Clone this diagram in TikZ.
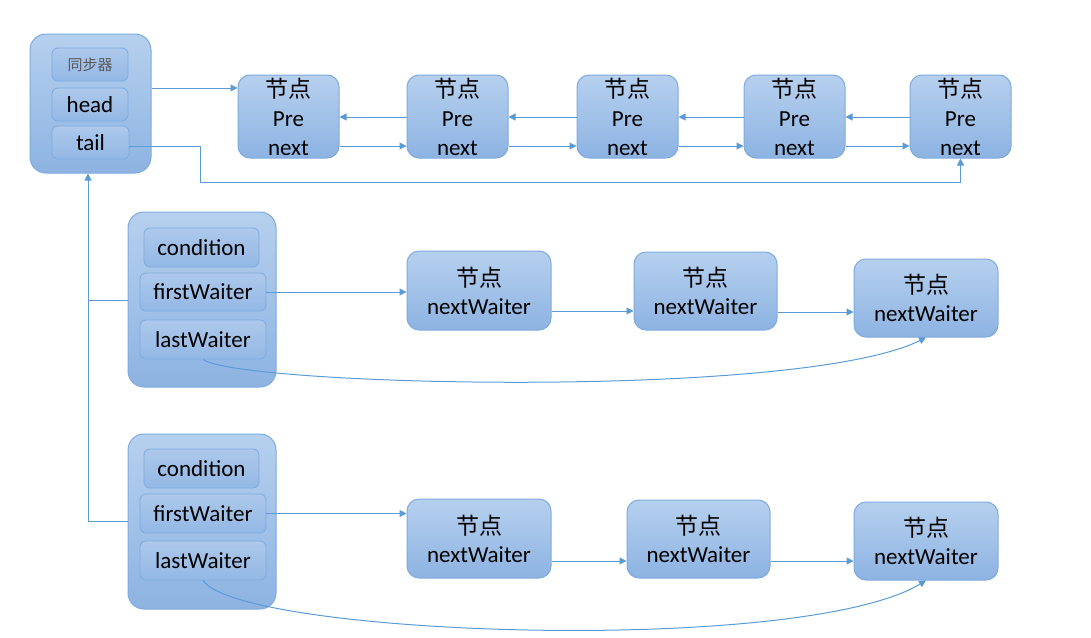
\documentclass[tikz,border=0pt]{standalone}
\usepackage{fontspec}
\setmainfont{Carlito}
\newfontfamily\cjk{Noto Sans CJK SC}
\usetikzlibrary{arrows.meta,calc}
\definecolor{lineblue}{HTML}{5B9BD5}
\definecolor{bord}{HTML}{7EAADF}
\definecolor{outtop}{HTML}{B6D0EE}
\definecolor{outbot}{HTML}{8DB3E2}
\definecolor{intop}{HTML}{ADC8EB}
\definecolor{inbot}{HTML}{93B8E5}
\definecolor{graytxt}{HTML}{595959}
\begin{document}
\begin{tikzpicture}[x=1pt,y=-1pt,
  outer/.style={draw=bord, line width=1pt, rounded corners=16pt, top color=outtop, bottom color=outbot, inner sep=0pt},
  inner/.style={draw=bord, line width=0.8pt, rounded corners=6pt, top color=intop, bottom color=inbot, inner sep=0pt, font=\fontsize{23}{26}\selectfont},
  listnode/.style={draw=bord, line width=1pt, rounded corners=12pt, top color=outtop, bottom color=outbot, inner sep=0pt, align=center, minimum width=101pt, minimum height=83pt, font=\fontsize{23}{29}\selectfont},
  waitnode/.style={draw=bord, line width=1pt, rounded corners=12pt, top color=outtop, bottom color=outbot, inner sep=0pt, align=center, minimum width=144pt, minimum height=79pt, font=\fontsize{23}{28}\selectfont},
  arr/.style={draw=lineblue, line width=1pt, -{Triangle[length=7pt,width=7pt]}},
  ln/.style={draw=lineblue, line width=1pt}
]
\useasboundingbox (0,0) rectangle (1091,637);

% synchronizer
\node[outer, minimum width=121pt, minimum height=139pt] (sync) at (90.5,103.5) {};
\node[inner, minimum width=76pt, minimum height=33pt, text=graytxt, font=\cjk\fontsize{15}{18}\selectfont] (sname) at (90,64.5) {同步器};
\node[inner, minimum width=76pt, minimum height=33pt] (head) at (90,104.5) {head};
\node[inner, minimum width=77pt, minimum height=33pt] (tail) at (90.5,142.5) {tail};

% top list
\node[listnode] (n1) at (288.5,116.5) {{\cjk 节点}\\Pre\\next};
\node[listnode] (n2) at (457.5,116.5) {{\cjk 节点}\\Pre\\next};
\node[listnode] (n3) at (627.5,116.5) {{\cjk 节点}\\Pre\\next};
\node[listnode] (n4) at (794.5,116.5) {{\cjk 节点}\\Pre\\next};
\node[listnode] (n5) at (960.5,116.5) {{\cjk 节点}\\Pre\\next};

\draw[arr] (sync.east |- 0,88) -- (n1.west |- 0,88);
\draw[arr] (n2.west |- 0,117) -- (n1.east |- 0,117);
\draw[arr] (n3.west |- 0,117) -- (n2.east |- 0,117);
\draw[arr] (n4.west |- 0,117) -- (n3.east |- 0,117);
\draw[arr] (n5.west |- 0,117) -- (n4.east |- 0,117);
\draw[arr] (n1.east |- 0,146) -- (n2.west |- 0,146);
\draw[arr] (n2.east |- 0,146) -- (n3.west |- 0,146);
\draw[arr] (n3.east |- 0,146) -- (n4.west |- 0,146);
\draw[arr] (n4.east |- 0,146) -- (n5.west |- 0,146);
\draw[arr] (tail.east |- 0,146) -- (200,146) -- (200,182) -- (n5.south |- 0,182) -- (n5.south);

% condition 1
\node[outer, minimum width=148pt, minimum height=175pt] (c1) at (202,299.5) {};
\node[inner, minimum width=115pt, minimum height=39pt] (c1cond) at (201.5,247.5) {condition};
\node[inner, minimum width=126pt, minimum height=38pt] (c1first) at (203,292) {firstWaiter};
\node[inner, minimum width=126pt, minimum height=39pt] (c1last) at (203,339.5) {lastWaiter};

\node[waitnode] (a1) at (479,290.5) {{\cjk 节点}\\nextWaiter};
\node[waitnode, minimum width=143pt, minimum height=78pt] (b1) at (705.5,291) {{\cjk 节点}\\nextWaiter};
\node[waitnode, minimum height=78pt] (d1) at (926,298) {{\cjk 节点}\\nextWaiter};

\draw[arr] (c1first.east) -- (a1.west |- c1first.east);
\draw[arr] (a1.east |- 0,311) -- (b1.west |- 0,311);
\draw[arr] (b1.east |- 0,312) -- (d1.west |- 0,312);
\draw[arr] (c1last.south) .. controls (240,386) and (800,400) .. (d1.south);

% condition 2
\node[outer, minimum width=148pt, minimum height=175pt] (c2) at (202,521.5) {};
\node[inner, minimum width=115pt, minimum height=39pt] (c2cond) at (201.5,468.5) {condition};
\node[inner, minimum width=126pt, minimum height=39pt] (c2first) at (203,513.5) {firstWaiter};
\node[inner, minimum width=126pt, minimum height=39pt] (c2last) at (203,560.5) {lastWaiter};

\node[waitnode] (a2) at (479,538.5) {{\cjk 节点}\\nextWaiter};
\node[waitnode, minimum width=143pt, minimum height=78pt] (b2) at (698.5,539) {{\cjk 节点}\\nextWaiter};
\node[waitnode, minimum height=78pt] (d2) at (926,541) {{\cjk 节点}\\nextWaiter};

\draw[arr] (c2first.east) -- (a2.west |- c2first.east);
\draw[arr] (a2.east |- 0,561) -- (b2.west |- 0,561);
\draw[arr] (b2.east |- 0,561) -- (d2.west |- 0,561);
\draw[arr] (c2last.south) .. controls (240,636) and (800,656) .. (d2.south);

% back links to synchronizer
\coordinate (j) at (88,521);
\draw[ln] (c1.west |- 0,300) -- (j |- 0,300);
\draw[arr] (c2.west |- j) -- (j) -- (sync.south -| j);
\end{tikzpicture}
\end{document}
